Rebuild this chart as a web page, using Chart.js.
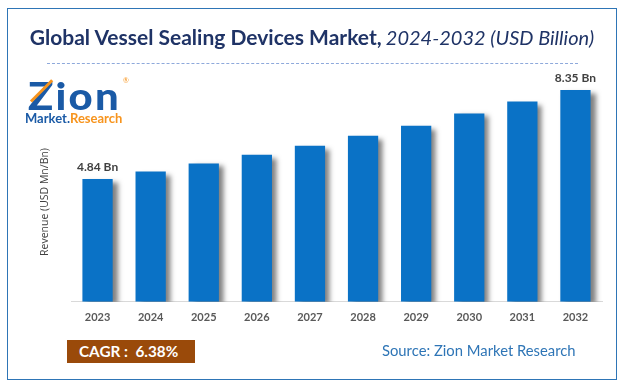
<!DOCTYPE html>
<html>
<head>
<meta charset="utf-8">
<script src="https://cdn.jsdelivr.net/npm/chart.js@4.4.1/dist/chart.umd.min.js"></script>
<style>
  html, body { margin: 0; padding: 0; background: #fff; }
  #wrap { position: relative; width: 624px; height: 389px; overflow: hidden; background: #fff; font-family: Lato, "Open Sans", sans-serif; }
  #frame { position: absolute; left: 7px; top: 8px; width: 608px; height: 370px; border: 1.5px solid #2E75B6; }
  #title { position: absolute; left: 0; width: 624px; top: 26px; text-align: center; white-space: nowrap; line-height: 1; color: #1F3366; }
  #title .b { font-weight: 700; font-size: 21px; }
  #title .i { font-style: italic; font-weight: 400; font-size: 20px; }
  #dash { position: absolute; left: 47px; width: 531px; top: 63px; border-top: 1.3px dashed #8EA9DB; }
  #logo { position: absolute; left: 27px; top: 76px; width: 110px; height: 55px; }
  #logo .zion { position: absolute; left: 1px; top: 0; font-weight: 900; font-size: 38px; line-height: 1; color: #1A5AA6; letter-spacing: 2px; transform: scaleX(1.1); transform-origin: left top; }
  #logo .reg { position: absolute; left: 96px; top: 0px; font-size: 7px; color: #F7941D; }
  #logo .mr { position: absolute; left: -2px; top: 36px; font-weight: 700; font-size: 13px; line-height: 1; white-space: nowrap; letter-spacing: 0px; }
  #logo .mr .m { color: #1A5AA6; }
  #logo .mr .r { color: #F7941D; }
  #logo .arrow { position: absolute; left: 4px; top: 24px; width: 30px; height: 3px; background: #F7941D; transform: rotate(-45deg); transform-origin: left center; }
  #ytitle { position: absolute; left: 44px; top: 202px; width: 0; height: 0; }
  #ytitle span { position: absolute; left: 0; top: 0; transform: translate(-50%, -50%) rotate(-90deg); white-space: nowrap; font-size: 10.5px; color: #404040; font-family: "Open Sans", sans-serif; }
  #cagr { position: absolute; left: 67px; top: 340px; width: 128px; height: 23px; background: #9A4A0A; color: #fff; font-weight: 700; font-size: 15.3px; line-height: 23px; box-sizing: border-box; padding-left: 12px; white-space: pre; }
  #source { position: absolute; left: 382px; top: 341px; font-size: 14.8px; color: #2E75B6; white-space: nowrap; line-height: 18px; }
  canvas { position: absolute; left: 0; top: 0; }
</style>
</head>
<body>
<div id="wrap">
  <canvas id="c" width="624" height="389"></canvas>
  <div id="frame"></div>
  <div id="title"><span class="b">Global Vessel Sealing Devices Market,</span> <span class="i">2024-2032 (USD Billion)</span></div>
  <div id="dash"></div>
  <div id="logo">
    <div class="zion">Zion</div>
    <div class="arrow"></div>
    <div class="reg">®</div>
    <div class="mr"><span class="m">Market.</span><span class="r">Research</span></div>
  </div>
  <div id="ytitle"><span>Revenue (USD Mn/Bn)</span></div>
  <div id="cagr">CAGR :  6.38%</div>
  <div id="source">Source: Zion Market Research</div>
</div>
<script>
const years = ["2023", "2024", "2025", "2026", "2027", "2028", "2029", "2030", "2031", "2032"];
const revenue = [4.84, 5.13, 5.45, 5.79, 6.15, 6.54, 6.94, 7.42, 7.89, 8.35];
const labelledIndexes = [0, 9];
const unitSuffix = " Bn";

const barStyle = {
  id: "barStyle",
  beforeDatasetsDraw(chart) {
    const ctx = chart.ctx;
    ctx.save();
    ctx.shadowColor = "rgba(0,0,0,0.5)";
    ctx.shadowBlur = 5;
    ctx.shadowOffsetX = 5;
    ctx.shadowOffsetY = 3;
  },
  afterDatasetsDraw(chart) {
    const ctx = chart.ctx;
    ctx.restore();
    const meta = chart.getDatasetMeta(0);
    ctx.save();
    ctx.font = "700 12px Lato, sans-serif";
    ctx.fillStyle = "#404040";
    ctx.textAlign = "center";
    ctx.textBaseline = "middle";
    labelledIndexes.forEach(i => {
      const el = meta.data[i];
      ctx.fillText(revenue[i].toFixed(2) + unitSuffix, el.x, el.y - 12);
    });
    ctx.restore();
  }
};

new Chart(document.getElementById("c"), {
  type: "bar",
  data: {
    labels: years,
    datasets: [{
      data: revenue,
      backgroundColor: "#0A72C6",
      borderWidth: 0,
      barPercentage: 0.57,
      categoryPercentage: 1.0
    }]
  },
  options: {
    responsive: false,
    animation: false,
    events: [],
    layout: { padding: { left: 71, right: 22, top: 80, bottom: 56 } },
    plugins: { legend: { display: false }, tooltip: { enabled: false } },
    scales: {
      x: {
        grid: { display: false, drawTicks: false },
        border: { display: true, color: "#D9D9D9", width: 1 },
        ticks: { color: "#595959", font: { family: "Lato", size: 11, weight: "700" }, padding: 9 }
      },
      y: {
        display: false,
        min: 0,
        max: 8.74
      }
    }
  },
  plugins: [barStyle]
});
</script>
</body>
</html>
